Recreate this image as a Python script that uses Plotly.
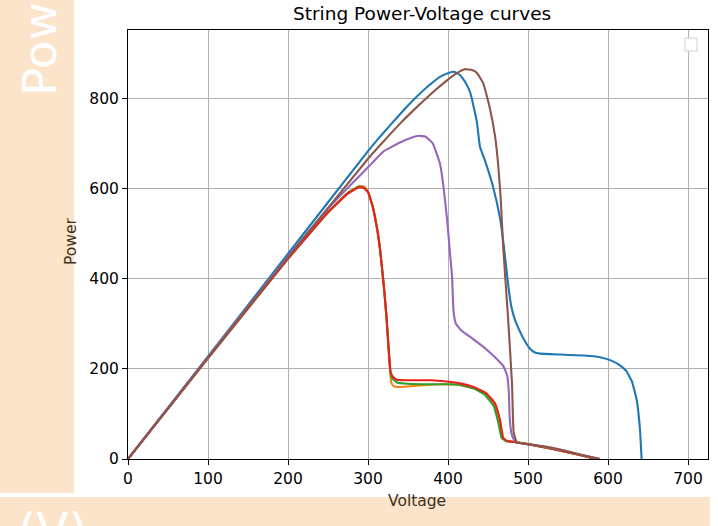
import plotly.graph_objects as go

# ---------------- data ----------------
blue_v = [0, 100, 200, 300, 315, 340, 357, 375, 390, 400, 408, 415, 422, 428, 436, 440, 446, 456, 465, 470, 475, 479, 484, 490, 496, 502, 508, 515, 540, 570, 590, 605, 615, 623, 630, 636, 640, 642]
blue_p = [0, 228, 456, 684, 716, 766, 798, 828, 849, 857, 860, 853, 836, 813, 750, 693, 664, 607, 535, 470, 390, 340, 308, 283, 262, 246, 237, 234, 232, 230, 226, 218, 208, 195, 172, 130, 65, 0]

orange_v = [0, 100, 200, 250, 275, 290, 296, 300, 306, 312, 315, 320, 323, 326, 329, 332, 340, 355, 377, 398, 415, 432, 447, 458, 464, 468, 473, 482, 500, 523, 545, 565, 585]
orange_p = [0, 224, 445, 548, 592, 607, 604, 594, 560, 505, 467, 380, 318, 240, 170, 162, 160, 162, 165, 166, 164, 157, 144, 120, 84, 47, 40, 38, 33, 25, 17, 9, 0]

green_v = [0, 100, 200, 250, 275, 289, 295, 300, 306, 312, 315, 320, 323, 326, 328, 330, 336, 350, 370, 398, 415, 432, 446, 457, 463, 467, 472, 482, 500, 523, 545, 565, 585]
green_p = [0, 224, 445, 548, 591, 605, 603, 593, 560, 505, 467, 380, 318, 240, 195, 180, 170, 167, 166, 166, 165, 157, 143, 118, 80, 47, 40, 38, 33, 25, 17, 9, 0]

red_v = [0, 100, 200, 250, 275, 288, 294, 300, 306, 312, 315, 320, 323, 326, 328, 331, 336, 350, 380, 398, 415, 432, 448, 459, 465, 469, 474, 482, 500, 523, 545, 565, 585]
red_p = [0, 224, 445, 548, 590, 603, 603, 593, 560, 505, 467, 380, 318, 240, 195, 183, 176, 175, 175, 172, 168, 160, 146, 123, 87, 47, 40, 38, 33, 25, 17, 9, 0]

purple_v = [0, 100, 200, 250, 280, 300, 319, 340, 355, 363, 372, 381, 390, 394, 399, 402, 405, 407, 410, 417, 431, 445, 452, 460, 469, 474, 476, 477, 479, 482, 486, 500, 523, 545, 565, 590]
purple_p = [0, 226, 450, 556, 612, 648, 683, 703, 714, 718, 716, 701, 656, 610, 530, 467, 407, 326, 300, 285, 267, 248, 237, 224, 207, 185, 150, 96, 60, 44, 37, 33, 27, 19, 10, 0]

brown_v = [0, 100, 200, 300, 315, 340, 357, 380, 398, 410, 421, 430, 436, 444, 452, 459, 463, 466, 469, 475, 480, 482, 486, 500, 523, 545, 565, 590]
brown_p = [0, 225, 448, 667, 697, 745, 775, 813, 840, 856, 866, 864, 858, 835, 782, 715, 648, 575, 470, 316, 168, 60, 37, 33, 27, 19, 10, 0]

x_ticks = [0, 100, 200, 300, 400, 500, 600, 700]
y_ticks = [0, 200, 400, 600, 800]

series = [
    (blue_v, blue_p, "#1f77b4"),
    (orange_v, orange_p, "#ff7f0e"),
    (green_v, green_p, "#2ca02c"),
    (red_v, red_p, "#e8221b"),
    (purple_v, purple_p, "#9467bd"),
    (brown_v, brown_p, "#8c564b"),
]

# ---------------- figure ----------------
W, H = 718, 526
L, R, T, B = 128, 708, 30, 459  # plot area in pixels


def px(x):
    return (x - L) / (R - L)


def py(y):
    return (B - y) / (B - T)


FONT = "DejaVu Sans"
fig = go.Figure()
for v, p, c in series:
    fig.add_trace(go.Scatter(x=v, y=p, mode="lines",
                             line=dict(color=c, width=2.1, shape="spline", smoothing=0.3),
                             showlegend=False, hoverinfo="skip"))

peach = "#FCE4CA"
shapes = [
    dict(type="rect", xref="paper", yref="paper", x0=px(0), x1=px(74), y0=py(0), y1=py(493),
         fillcolor=peach, line=dict(width=0), layer="below"),
    dict(type="rect", xref="paper", yref="paper", x0=px(0), x1=px(710), y0=py(497), y1=py(526),
         fillcolor=peach, line=dict(width=0), layer="below"),
    dict(type="rect", xref="paper", yref="paper", x0=px(685), x1=px(697), y0=py(38), y1=py(51),
         fillcolor="white", line=dict(width=1, color="#d0d0d0"), layer="above"),
]

annotations = [
    dict(text="String Power-Voltage curves", xref="paper", yref="paper", x=px(422), y=py(26),
         xanchor="center", yanchor="bottom", showarrow=False,
         font=dict(family=FONT, size=18.5, color="#000000")),
    dict(text="Voltage", xref="paper", yref="paper", x=px(417), y=py(501),
         xanchor="center", yanchor="middle", showarrow=False,
         font=dict(family=FONT, size=15.5, color="#3d3125")),
    dict(text="Power", xref="paper", yref="paper", x=px(71), y=py(242), textangle=-90,
         xanchor="center", yanchor="middle", showarrow=False,
         font=dict(family=FONT, size=15.5, color="#3d3125")),
    dict(text="Power (W)", xref="paper", yref="paper", x=px(40), y=py(98), textangle=-90,
         xanchor="center", yanchor="bottom", showarrow=False,
         font=dict(family=FONT, size=47, color="#ffffff")),
    dict(text="(V)", xref="paper", yref="paper", x=px(16), y=py(500),
         xanchor="left", yanchor="top", showarrow=False,
         font=dict(family=FONT, size=47, color="#ffffff")),
]

axis_common = dict(showgrid=True, gridcolor="#b0b0b0", gridwidth=1, zeroline=False,
                   showline=True, linecolor="#000000", linewidth=1, mirror=True,
                   ticks="outside", ticklen=5, tickcolor="#000000", tickwidth=1,
                   tickfont=dict(family=FONT, size=15.5, color="#000000"))

fig.update_layout(
    width=W, height=H,
    margin=dict(l=L, r=W - R, t=T, b=H - B),
    paper_bgcolor="white", plot_bgcolor="white",
    xaxis=dict(range=[0, 725], tickvals=x_ticks, **axis_common),
    yaxis=dict(range=[0, 953], tickvals=y_ticks, **axis_common),
    shapes=shapes, annotations=annotations,
    showlegend=False,
)

fig.write_html("out.html")
